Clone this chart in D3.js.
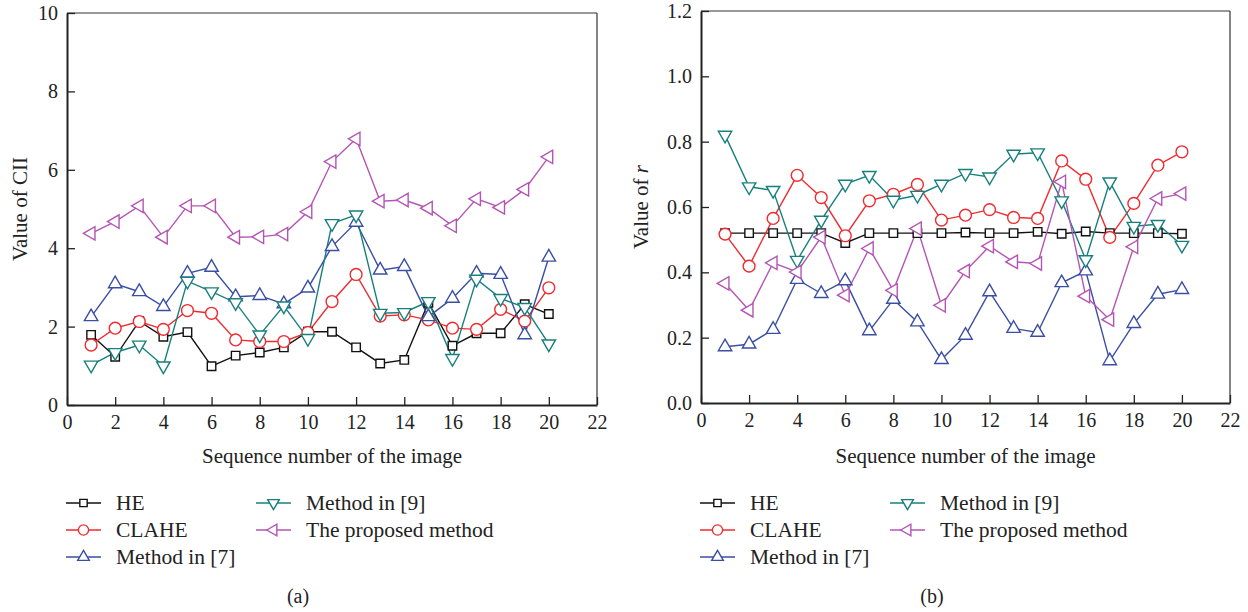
<!DOCTYPE html>
<html>
<head>
  <meta charset="utf-8">
  <script src="https://d3js.org/d3.v7.min.js"></script>
  <style>
    body { margin:0; background:#fff; }
    text { font-family: "Liberation Serif", "Times New Roman", serif; fill:#222; }
  </style>
</head>
<body>
  <script>
    // Donnees
    var imageNumbers = [1,2,3,4,5,6,7,8,9,10,11,12,13,14,15,16,17,18,19,20];
    var seriesNames = ["HE", "CLAHE", "Method in [7]", "Method in [9]", "The proposed method"];

    // (a) CII
    var ciiHE       = [1.79,1.23,2.14,1.74,1.86,0.99,1.26,1.34,1.47,1.87,1.87,1.47,1.06,1.15,2.61,1.51,1.83,1.83,2.57,2.32];
    var ciiCLAHE    = [1.53,1.96,2.13,1.93,2.41,2.34,1.66,1.62,1.62,1.85,2.64,3.33,2.27,2.30,2.17,1.96,1.93,2.44,2.14,2.99];
    var ciiMethod7  = [2.25,3.09,2.89,2.51,3.36,3.51,2.76,2.79,2.58,2.98,4.04,4.66,3.44,3.53,2.25,2.72,3.36,3.33,1.79,3.77];
    var ciiMethod9  = [1.02,1.34,1.53,1.00,3.16,2.89,2.61,1.79,2.53,1.70,4.63,4.85,2.34,2.36,2.64,1.19,3.21,2.72,2.49,1.56];
    var ciiProposed = [4.38,4.68,5.08,4.28,5.08,5.08,4.28,4.29,4.36,4.93,6.21,6.79,5.20,5.23,5.02,4.57,5.26,5.04,5.50,6.33];

    // (b) r
    var rHE       = [0.52,0.52,0.52,0.52,0.52,0.49,0.52,0.52,0.52,0.52,0.522,0.52,0.52,0.524,0.518,0.525,0.52,0.52,0.52,0.518];
    var rCLAHE    = [0.517,0.419,0.565,0.697,0.629,0.512,0.619,0.639,0.669,0.560,0.575,0.592,0.568,0.565,0.741,0.685,0.507,0.611,0.728,0.769];
    var rMethod7  = [0.172,0.180,0.225,0.378,0.335,0.374,0.221,0.317,0.248,0.133,0.207,0.340,0.228,0.216,0.368,0.404,0.129,0.243,0.333,0.347];
    var rMethod9  = [0.820,0.662,0.651,0.437,0.560,0.670,0.697,0.621,0.636,0.670,0.703,0.692,0.762,0.766,0.619,0.439,0.677,0.541,0.547,0.483];
    var rProposed = [0.366,0.284,0.429,0.401,0.508,0.330,0.473,0.345,0.534,0.299,0.404,0.480,0.432,0.427,0.677,0.327,0.255,0.478,0.626,0.641];

    var xTicks = [0,2,4,6,8,10,12,14,16,18,20,22];
    var ciiTicks = [0,2,4,6,8,10];
    var rTicks = [0,0.2,0.4,0.6,0.8,1.0,1.2];

    // styles des series
    var colors = ["#111111", "#ee2b2f", "#3a4fa3", "#17807e", "#b455b4"];
    var symbols = [d3.symbolSquare, d3.symbolCircle, d3.symbolTriangle, d3.symbolTriangle, d3.symbolTriangle];
    var sizes = [72, 110, 78, 78, 78];
    var rotations = [0, 0, 0, 180, -90];

    var svg = d3.select("body").append("svg")
      .attr("width", 1248)
      .attr("height", 612);

    function drawPanel(p) {
      var x = d3.scaleLinear().domain([0, 22]).range([p.left, p.right]);
      var y = d3.scaleLinear().domain(p.yDomain).range([p.bottom, p.top]);
      var g = svg.append("g");

      // cadre haut et droite
      g.append("line").attr("x1", p.left).attr("x2", p.right).attr("y1", p.top).attr("y2", p.top)
        .attr("stroke", "#333").attr("stroke-width", 1.2);
      g.append("line").attr("x1", p.right).attr("x2", p.right).attr("y1", p.top).attr("y2", p.bottom)
        .attr("stroke", "#333").attr("stroke-width", 1.2);

      var xAxis = g.append("g").attr("transform", "translate(0," + p.bottom + ")")
        .call(d3.axisBottom(x).tickValues(xTicks).tickFormat(d3.format("d"))
          .tickSizeInner(-8).tickSizeOuter(0).tickPadding(10));
      var yAxis = g.append("g").attr("transform", "translate(" + p.left + ",0)")
        .call(d3.axisLeft(y).tickValues(p.yTicks).tickFormat(p.yFormat)
          .tickSizeInner(-8).tickSizeOuter(0).tickPadding(9));

      [xAxis, yAxis].forEach(function(a) {
        a.attr("font-family", null).attr("font-size", null);
        a.select(".domain").attr("stroke", "#222").attr("stroke-width", 2);
        a.selectAll(".tick line").attr("stroke", "#222").attr("stroke-width", 1.3);
        a.selectAll("text").attr("font-size", "20px").attr("fill", "#222");
      });

      // courbes
      p.series.forEach(function(values, k) {
        var pts = imageNumbers.map(function(n, i) { return [n, values[i]]; });
        g.append("path").datum(pts)
          .attr("fill", "none")
          .attr("stroke", colors[k])
          .attr("stroke-width", 1.4)
          .attr("d", d3.line().x(function(d) { return x(d[0]); }).y(function(d) { return y(d[1]); }));
      });
      p.series.forEach(function(values, k) {
        var pts = imageNumbers.map(function(n, i) { return [n, values[i]]; });
        g.selectAll(null).data(pts).enter().append("path")
          .attr("d", d3.symbol().type(symbols[k]).size(sizes[k]))
          .attr("transform", function(d) {
            return "translate(" + x(d[0]) + "," + y(d[1]) + ") rotate(" + rotations[k] + ")";
          })
          .attr("fill", "#fff")
          .attr("stroke", colors[k])
          .attr("stroke-width", 1.4);
      });

      // titres des axes
      g.append("text").text("Sequence number of the image")
        .attr("x", (p.left + p.right) / 2).attr("y", 463)
        .attr("text-anchor", "middle").attr("font-size", "21px");

      var yt = g.append("text")
        .attr("transform", "translate(" + p.yTitleX + "," + ((p.top + p.bottom) / 2) + ") rotate(-90)")
        .attr("text-anchor", "middle").attr("font-size", "21px");
      yt.append("tspan").text(p.yTitle);
      if (p.yTitleItalic) yt.append("tspan").attr("font-style", "italic").text(p.yTitleItalic);

      // legende
      var legX = p.left - 1;
      var rows = [[0, 0], [0, 1], [0, 2], [1, 0], [1, 1]];
      seriesNames.forEach(function(name, k) {
        var lx = legX + rows[k][0] * 190;
        var ly = 503 + rows[k][1] * 27;
        g.append("line").attr("x1", lx).attr("x2", lx + 35).attr("y1", ly).attr("y2", ly)
          .attr("stroke", colors[k]).attr("stroke-width", 1.4);
        g.append("path")
          .attr("d", d3.symbol().type(symbols[k]).size(sizes[k] * 0.75))
          .attr("transform", "translate(" + (lx + 17.5) + "," + ly + ") rotate(" + rotations[k] + ")")
          .attr("fill", "#fff").attr("stroke", colors[k]).attr("stroke-width", 1.4);
        g.append("text").text(name)
          .attr("x", lx + 50).attr("y", ly + 7).attr("font-size", "21.5px");
      });

      g.append("text").text(p.caption)
        .attr("x", p.captionX).attr("y", 603)
        .attr("text-anchor", "middle").attr("font-size", "20px");
    }

    drawPanel({
      left: 67, right: 597, top: 13, bottom: 405,
      yDomain: [0, 10], yTicks: ciiTicks, yFormat: d3.format("d"),
      yTitle: "Value of CII", yTitleX: 27,
      series: [ciiHE, ciiCLAHE, ciiMethod7, ciiMethod9, ciiProposed],
      caption: "(a)", captionX: 298
    });

    drawPanel({
      left: 701, right: 1230, top: 11, bottom: 403,
      yDomain: [0, 1.2], yTicks: rTicks, yFormat: d3.format(".1f"),
      yTitle: "Value of ", yTitleItalic: "r", yTitleX: 648,
      series: [rHE, rCLAHE, rMethod7, rMethod9, rProposed],
      caption: "(b)", captionX: 932
    });
  </script>
</body>
</html>
